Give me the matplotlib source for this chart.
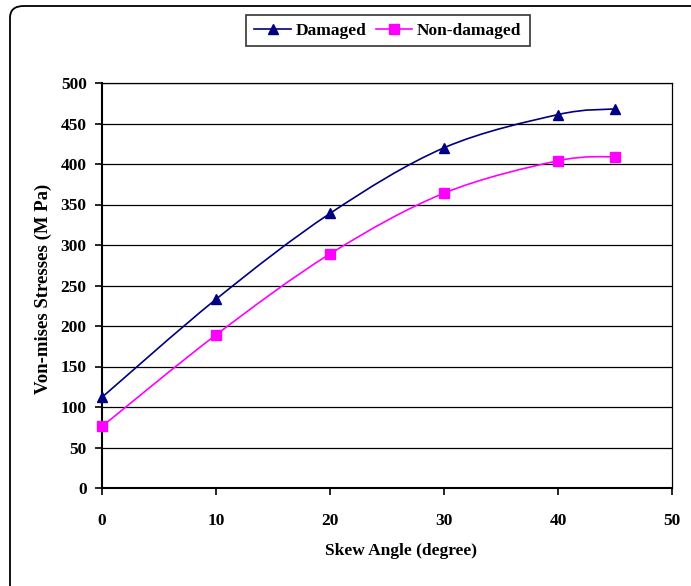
import matplotlib
matplotlib.use("Agg")
import matplotlib.pyplot as plt
import numpy as np
from matplotlib.path import Path
from matplotlib.patches import PathPatch, FancyBboxPatch
from matplotlib.lines import Line2D

skew_angle = [0, 10, 20, 30, 40, 45]
damaged = [112, 233, 339, 420, 461, 468]
non_damaged = [76, 189, 289, 364, 404, 409]
x_ticks = [0, 10, 20, 30, 40, 50]
y_ticks = [0, 50, 100, 150, 200, 250, 300, 350, 400, 450, 500]

W, H = 691, 586
fig = plt.figure(figsize=(W / 100, H / 100), dpi=100)
plt.rcParams['font.family'] = ['Liberation Serif', 'DejaVu Serif']

# outer rounded border
border = FancyBboxPatch((10 / W, 1 - 700 / H), 700 / W, 694 / H,
                        boxstyle="round,pad=0,rounding_size=0.02",
                        transform=fig.transFigure, fill=False,
                        edgecolor='black', linewidth=1.3, clip_on=False)
fig.patches.append(border)

ax = fig.add_axes([102 / W, 1 - 488 / H, 570 / W, 405 / H])
ax.set_xlim(0, 50)
ax.set_ylim(0, 500)
ax.set_xticks(x_ticks)
ax.set_yticks(y_ticks)
ax.tick_params(axis='both', direction='out', length=5, width=1.2,
               labelsize=12.5, pad=6)
for lab in ax.get_xticklabels() + ax.get_yticklabels():
    lab.set_fontweight('bold')
ax.tick_params(axis='x', pad=13)
ax.yaxis.grid(True, color='black', linewidth=0.9)
ax.set_axisbelow(True)
for s in ['top', 'right']:
    ax.spines[s].set_linewidth(0.9)
for s in ['left', 'bottom']:
    ax.spines[s].set_linewidth(1.5)


def smooth_path(xs, ys):
    pts = np.column_stack([xs, ys]).astype(float)
    n = len(pts)
    verts = [pts[0]]
    codes = [Path.MOVETO]
    for i in range(n - 1):
        p0 = pts[i - 1] if i > 0 else pts[i]
        p1 = pts[i]
        p2 = pts[i + 1]
        p3 = pts[i + 2] if i + 2 < n else pts[i + 1]
        c1 = p1 + (p2 - p0) / 6.0
        c2 = p2 - (p3 - p1) / 6.0
        verts += [c1, c2, p2]
        codes += [Path.CURVE4] * 3
    return Path(verts, codes)


series = [
    (damaged, '#000080', '^', 'Damaged'),
    (non_damaged, '#FF00FF', 's', 'Non-damaged'),
]
handles = []
for ys, col, mk, name in series:
    patch = PathPatch(smooth_path(skew_angle, ys), facecolor='none',
                      edgecolor=col, linewidth=1.2, zorder=3)
    ax.add_patch(patch)
    ax.plot(skew_angle, ys, linestyle='none', marker=mk, color=col,
            markersize=7, zorder=4, clip_on=False)
    handles.append(Line2D([0], [0], color=col, marker=mk, markersize=7,
                          linewidth=1.2, label=name))

ax.set_xlabel('Skew Angle (degree)', fontsize=12.5, fontweight='bold')
ax.xaxis.set_label_coords((401 - 102) / 570, -(551 - 488) / 405)
ax.xaxis.label.set_va('center')
ax.set_ylabel('Von-mises Stresses (M Pa)', fontsize=13.5, fontweight='bold')
ax.yaxis.set_label_coords(-(102 - 43) / 570, (488 - 289) / 405)
ax.yaxis.label.set_va('center')

leg = fig.legend(handles=handles, loc='center', ncol=2,
                 bbox_to_anchor=(388 / W, 1 - 30.5 / H),
                 prop={'weight': 'bold', 'size': 12.5},
                 frameon=True, fancybox=False, edgecolor='black',
                 handlelength=2.1, columnspacing=0.5, handletextpad=0.3,
                 borderpad=0.45)
leg.get_frame().set_linewidth(1.2)

fig.savefig('out.png', dpi=100)
